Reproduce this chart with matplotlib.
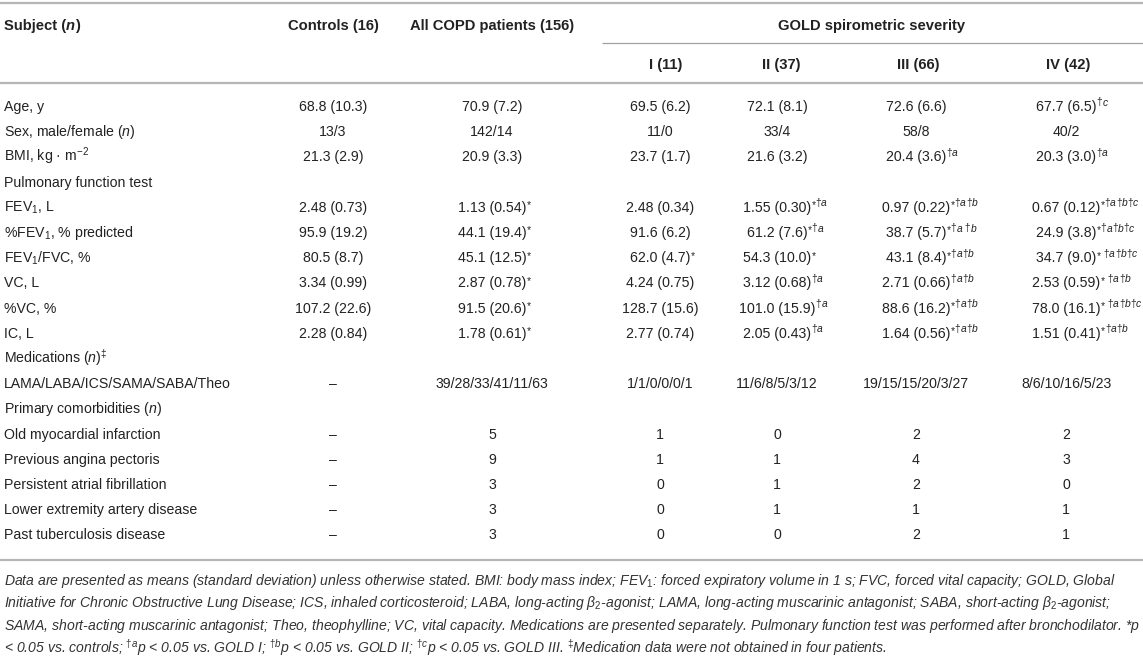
import matplotlib
matplotlib.use("Agg")
import matplotlib.pyplot as plt
from matplotlib import font_manager

# ---------------- data ----------------
col_headers = ["Controls (16)", "All COPD patients (156)", "I (11)", "II (37)", "III (66)", "IV (42)"]
group_header = "GOLD spirometric severity"

row_labels = [
    "Age, y",
    "Sex, male/female ($n$)",
    "BMI, kg · m$^{-2}$",
    "Pulmonary function test",
    "FEV$_{1}$, L",
    "%FEV$_{1}$, % predicted",
    "FEV$_{1}$/FVC, %",
    "VC, L",
    "%VC, %",
    "IC, L",
    "Medications ($n$)$^{‡}$",
    "LAMA/LABA/ICS/SAMA/SABA/Theo",
    "Primary comorbidities ($n$)",
    "Old myocardial infarction",
    "Previous angina pectoris",
    "Persistent atrial fibrillation",
    "Lower extremity artery disease",
    "Past tuberculosis disease",
]

# "^" separates the value from its superscript marks
controls = ["68.8 (10.3)", "13/3", "21.3 (2.9)", "", "2.48 (0.73)", "95.9 (19.2)", "80.5 (8.7)",
            "3.34 (0.99)", "107.2 (22.6)", "2.28 (0.84)", "", "–", "", "–", "–", "–", "–", "–"]
all_copd = ["70.9 (7.2)", "142/14", "20.9 (3.3)", "", "1.13 (0.54)^*", "44.1 (19.4)^*", "45.1 (12.5)^*",
            "2.87 (0.78)^*", "91.5 (20.6)^*", "1.78 (0.61)^*", "", "39/28/33/41/11/63", "",
            "5", "9", "3", "3", "3"]
gold_1 = ["69.5 (6.2)", "11/0", "23.7 (1.7)", "", "2.48 (0.34)", "91.6 (6.2)", "62.0 (4.7)^*",
          "4.24 (0.75)", "128.7 (15.6)", "2.77 (0.74)", "", "1/1/0/0/0/1", "",
          "1", "1", "0", "0", "0"]
gold_2 = ["72.1 (8.1)", "33/4", "21.6 (3.2)", "", "1.55 (0.30)^*†a", "61.2 (7.6)^*†a", "54.3 (10.0)^*",
          "3.12 (0.68)^†a", "101.0 (15.9)^†a", "2.05 (0.43)^†a", "", "11/6/8/5/3/12", "",
          "0", "1", "1", "1", "0"]
gold_3 = ["72.6 (6.6)", "58/8", "20.4 (3.6)^†a", "", "0.97 (0.22)^*†a†b", "38.7 (5.7)^*†a †b",
          "43.1 (8.4)^*†a†b", "2.71 (0.66)^†a†b", "88.6 (16.2)^*†a†b", "1.64 (0.56)^*†a†b", "",
          "19/15/15/20/3/27", "", "2", "4", "2", "1", "2"]
gold_4 = ["67.7 (6.5)^†c", "40/2", "20.3 (3.0)^†a", "", "0.67 (0.12)^*†a†b†c", "24.9 (3.8)^*†a†b†c",
          "34.7 (9.0)^* †a†b†c", "2.53 (0.59)^* †a†b", "78.0 (16.1)^* †a†b†c", "1.51 (0.41)^*†a†b", "",
          "8/6/10/16/5/23", "", "2", "3", "0", "1", "1"]

footnote_lines = [
    "Data are presented as means (standard deviation) unless otherwise stated. BMI: body mass index; FEV$_{1}$: forced expiratory volume in 1 s; FVC, forced vital capacity; GOLD, Global",
    "Initiative for Chronic Obstructive Lung Disease; ICS, inhaled corticosteroid; LABA, long-acting β$_{2}$-agonist; LAMA, long-acting muscarinic antagonist; SABA, short-acting β$_{2}$-agonist;",
    "SAMA, short-acting muscarinic antagonist; Theo, theophylline; VC, vital capacity. Medications are presented separately. Pulmonary function test was performed after bronchodilator. *$p$",
    "< 0.05 vs. controls; $^{†a}$$p$ < 0.05 vs. GOLD I; $^{†b}$$p$ < 0.05 vs. GOLD II; $^{†c}$$p$ < 0.05 vs. GOLD III. $^{‡}$Medication data were not obtained in four patients.",
]

# ---------------- style ----------------
W, H = 1143, 661
FONT = "Liberation Sans"
names = {f.name for f in font_manager.fontManager.ttflist}
NARROW = "Liberation Sans Narrow" if "Liberation Sans Narrow" in names else FONT

plt.rcParams["font.family"] = [FONT, "DejaVu Sans"]
plt.rcParams["mathtext.fontset"] = "custom"
plt.rcParams["mathtext.rm"] = FONT
plt.rcParams["mathtext.it"] = FONT + ":italic"
plt.rcParams["mathtext.bf"] = FONT + ":bold"

TXT = "#222222"
FS = 10.2
FS_HEAD = 10.6

fig = plt.figure(figsize=(W / 100, H / 100), dpi=100)
ax = fig.add_axes([0, 0, 1, 1])
ax.set_xlim(0, W)
ax.set_ylim(H, 0)
ax.axis("off")
fig.canvas.draw()
renderer = fig.canvas.get_renderer()


def width_of(t):
    return t.get_window_extent(renderer=renderer).width


# ---------------- layout ----------------
x_label = 4
val_x = [333, 492, 660, 777, 916, 1066]
head_x = [333, 492, 666, 781, 918, 1068]
group_x = 872
y_top_line = 3
y_head1 = 26
y_group_line = 43
y_head2 = 65
y_head_line = 83
y_row0 = 106
row_step = 25.2
y_bottom_line = 560
y_note0 = 581
note_step = 22.5

# rules
ax.plot([0, W], [y_top_line, y_top_line], color="#b5b5b5", lw=1.6, solid_capstyle="butt")
ax.plot([602, W], [y_group_line, y_group_line], color="#a0a0a0", lw=0.9, solid_capstyle="butt")
ax.plot([0, W], [y_head_line, y_head_line], color="#b5b5b5", lw=1.6, solid_capstyle="butt")
ax.plot([0, W], [y_bottom_line, y_bottom_line], color="#b5b5b5", lw=1.6, solid_capstyle="butt")

# header: Subject (n) with bold italic n
x = x_label
for seg, style in [("Subject (", "normal"), ("n", "italic"), (")", "normal")]:
    t = ax.text(x, y_head1, seg, fontsize=FS_HEAD, fontweight="bold", fontstyle=style,
                color=TXT, ha="left", va="center")
    x += width_of(t)

for k in (0, 1):
    ax.text(head_x[k], y_head1, col_headers[k], fontsize=FS_HEAD, fontweight="bold", color=TXT,
            ha="center", va="center")
ax.text(group_x, y_head1, group_header, fontsize=FS_HEAD, fontweight="bold", color=TXT,
        ha="center", va="center")
for cx, h in zip(head_x[2:], col_headers[2:]):
    ax.text(cx, y_head2, h, fontsize=FS_HEAD, fontweight="bold", color=TXT, ha="center", va="center")


def draw_marks(x, y, marks, size):
    """Draw superscript marks as runs of small text after position x (baseline y)."""
    segs = []
    for ch in marks:
        style = "italic" if ch.isalpha() else "normal"
        kind = "star" if ch == "*" else style
        if segs and segs[-1][1] == kind:
            segs[-1][0] += ch
        else:
            segs.append([ch, kind])
    for txt, kind in segs:
        rise = 3.5 if kind == "star" else 5.5
        t = ax.text(x, y - rise, txt, fontsize=size, color=TXT, ha="left", va="baseline",
                    fontstyle="italic" if kind == "italic" else "normal")
        x += width_of(t)
    return x


columns = [controls, all_copd, gold_1, gold_2, gold_3, gold_4]
for i, lab in enumerate(row_labels):
    yb = y_row0 + i * row_step + 5
    ax.text(x_label, yb, lab, fontsize=FS, color=TXT, ha="left", va="baseline")
    for cx, col in zip(val_x, columns):
        v = col[i]
        if not v:
            continue
        base, _, marks = v.partition("^")
        t = ax.text(cx, yb, base, fontsize=FS, color=TXT, ha="center", va="baseline")
        if marks:
            w = width_of(t)
            draw_marks(cx + w / 2 + 0.5, yb, marks, FS * 0.72)

# footnote: size chosen so that the widest justified line spans the width
widths = []
for line in footnote_lines[:3]:
    probe = ax.text(0, 0, line, fontsize=10, fontstyle="italic", family=[NARROW, "DejaVu Sans"])
    widths.append(width_of(probe))
    probe.remove()
fs_note = 10 * (W - 9) / max(widths)
for j, line in enumerate(footnote_lines):
    ax.text(x_label, y_note0 + j * note_step + 4, line, fontsize=fs_note, fontstyle="italic",
            family=[NARROW, "DejaVu Sans"], color="#333333", ha="left", va="baseline")

fig.savefig("out.png", dpi=100)
